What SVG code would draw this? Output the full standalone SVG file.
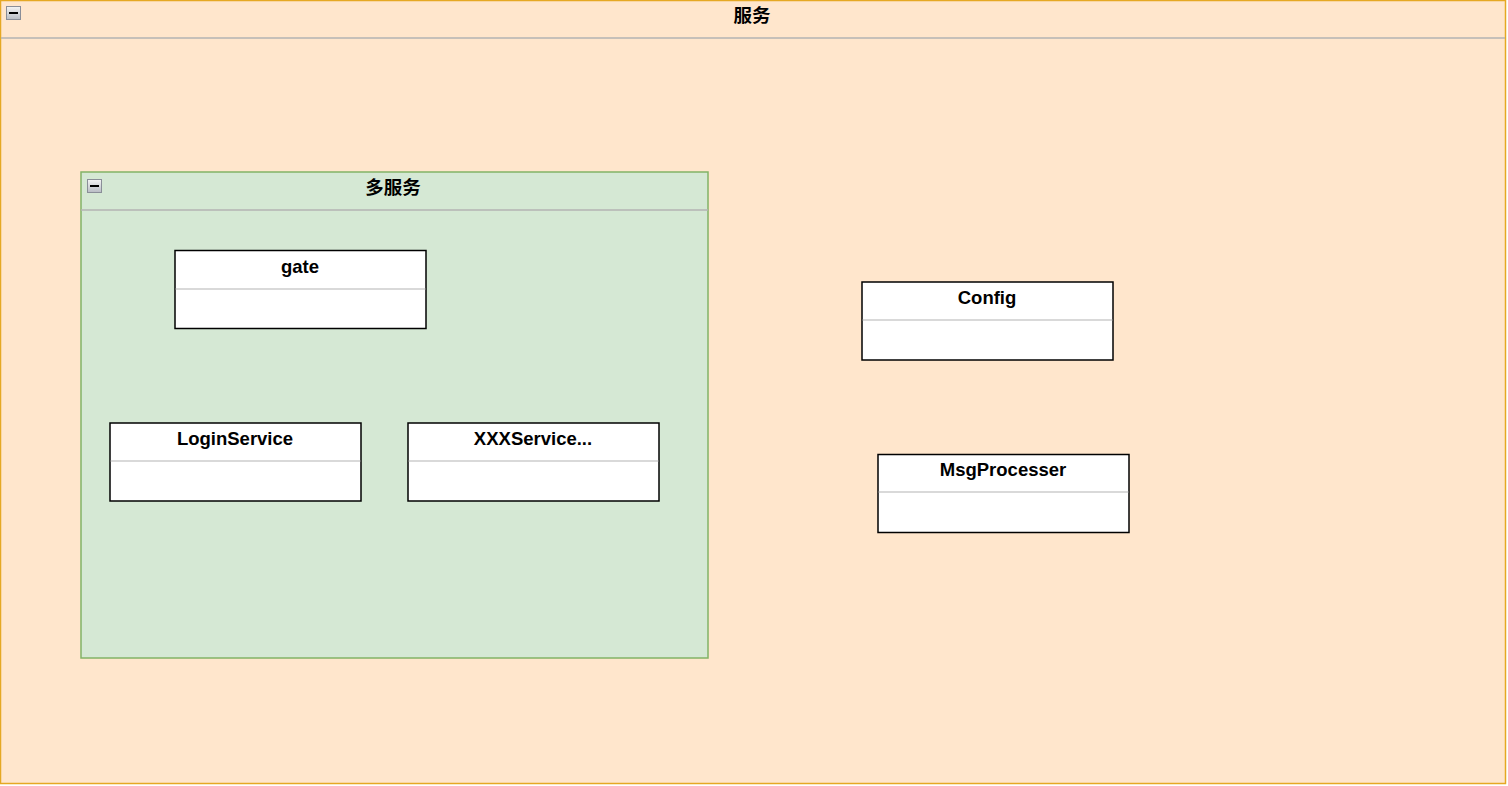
<svg xmlns="http://www.w3.org/2000/svg" width="1508" height="786" viewBox="0 0 1508 786">
<defs>
<linearGradient id="ig" x1="0" y1="0" x2="0" y2="1"><stop offset="0" stop-color="#f4f4f4"/><stop offset="1" stop-color="#b8bcc4"/></linearGradient>
<style>
.t{font-family:"Liberation Sans",Arial,"Noto Sans CJK SC",sans-serif;font-weight:bold;font-size:18.5px;text-anchor:middle;fill:#000}
.box{fill:#fff;stroke:#000;stroke-width:1.5}
.div{stroke:#b3b3b3;stroke-width:1}
.hd{stroke:#b3b3b3;stroke-width:1.5}
.icon{fill:url(#ig);stroke:#8a8e98;stroke-width:1}
</style>
</defs>
<g id="outer">
<rect x="0.5" y="0.5" width="1505" height="783" fill="#ffe6cc" stroke="#e5a823" stroke-width="1.5"/>
<line class="hd" x1="1" y1="38" x2="1505" y2="38"/>
<rect class="icon" x="6.5" y="6.5" width="14" height="13"/><line x1="9" y1="13" x2="18" y2="13" stroke="#000" stroke-width="2"/>
<text class="t" x="752" y="22">服务</text>
</g>
<g id="multi">
<rect x="81" y="172" width="627" height="486" fill="#d5e8d4" stroke="#82b366" stroke-width="1.5"/>
<line class="hd" x1="81" y1="210" x2="708" y2="210"/>
<rect class="icon" x="87.5" y="179.5" width="14" height="13"/><line x1="90" y1="186" x2="99" y2="186" stroke="#000" stroke-width="2"/>
<text class="t" x="393" y="194">多服务</text>
</g>
<g id="gate">
<rect class="box" x="175" y="250.5" width="251" height="78"/>
<line class="div" x1="175.5" y1="289" x2="425.5" y2="289"/>
<text class="t" x="300" y="273">gate</text>
</g>
<g id="login">
<rect class="box" x="110" y="423" width="251" height="78"/>
<line class="div" x1="110.5" y1="461" x2="360.5" y2="461"/>
<text class="t" x="235" y="445">LoginService</text>
</g>
<g id="xxx">
<rect class="box" x="408" y="423" width="251" height="78"/>
<line class="div" x1="408.5" y1="461" x2="658.5" y2="461"/>
<text class="t" x="533" y="445">XXXService...</text>
</g>
<g id="config">
<rect class="box" x="862" y="282" width="251" height="78"/>
<line class="div" x1="862.5" y1="320" x2="1112.5" y2="320"/>
<text class="t" x="987" y="304">Config</text>
</g>
<g id="msg">
<rect class="box" x="878" y="454.5" width="251" height="78"/>
<line class="div" x1="878.5" y1="492" x2="1128.5" y2="492"/>
<text class="t" x="1003" y="476">MsgProcesser</text>
</g>
<g id="connectors"/>
</svg>
